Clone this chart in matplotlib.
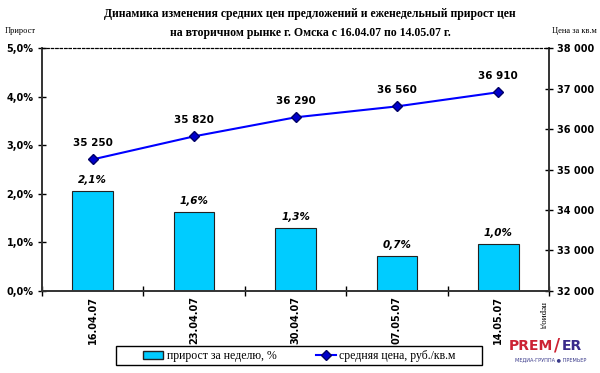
import matplotlib
matplotlib.use("Agg")
import matplotlib.pyplot as plt
import numpy as np
from matplotlib.lines import Line2D
from matplotlib.patches import Patch, Rectangle

dates = ["16.04.07", "23.04.07", "30.04.07", "07.05.07", "14.05.07"]
growth_pct = [2.06, 1.62, 1.29, 0.72, 0.96]
avg_price = [35250, 35820, 36290, 36560, 36910]

title = ("Динамика изменения средних цен предложений и еженедельный прирост цен\n"
         "на вторичном рынке г. Омска с 16.04.07 по 14.05.07 г.")

fig = plt.figure(figsize=(6.0, 3.73), dpi=100)
ax = fig.add_axes([0.07, 0.22, 0.845, 0.651])
ax2 = ax.twinx()

x = np.arange(len(dates))
ax.bar(x, growth_pct, width=0.4, color="#00CCFF", edgecolor="#222222", linewidth=0.8, zorder=2)
ax.set_xlim(-0.5, len(dates) - 0.5)
ax.set_ylim(0, 5)
ax.set_yticks(np.arange(0, 5.01, 1.0))
ax.set_yticklabels([f"{v:.1f}%".replace(".", ",") for v in np.arange(0, 5.01, 1.0)],
                   fontsize=7, fontweight="bold")
ax.set_xticks(x)
ax.set_xticklabels(dates, rotation=90, fontsize=7, fontweight="bold")
ax.set_xticks(np.arange(-0.5, len(dates), 1.0), minor=True)
ax.tick_params(axis="x", which="major", length=0, pad=4)
ax.tick_params(axis="x", which="minor", length=7, direction="inout", width=1)
ax.tick_params(axis="y", length=6, direction="inout", width=1, pad=3)

for xi, v in zip(x, growth_pct):
    ax.text(xi, v + 0.13, f"{v:.1f}%".replace(".", ","), ha="center", va="bottom",
            fontsize=7.5, fontweight="bold", fontstyle="italic")

ax2.plot(x, avg_price, color="#0000FF", linewidth=1.5, marker="D", markersize=5,
         markerfacecolor="#0000CC", markeredgecolor="#000066", zorder=3)
ax2.set_ylim(32000, 38000)
ax2.set_yticks(np.arange(32000, 38001, 1000))
ax2.set_yticklabels([f"{v:,}".replace(",", " ") for v in range(32000, 38001, 1000)],
                    fontsize=7, fontweight="bold")
ax2.tick_params(axis="y", length=6, direction="inout", width=1, pad=3)
for xi, v in zip(x, avg_price):
    ax2.text(xi, v + 280, f"{v:,}".replace(",", " "), ha="center", va="bottom",
             fontsize=7.5, fontweight="bold")

for a in (ax, ax2):
    a.spines["top"].set_linestyle((0, (2, 2)))
    a.spines["top"].set_linewidth(0.8)
    for s in ("left", "right", "bottom"):
        a.spines[s].set_color("#333333")
        a.spines[s].set_linewidth(1.2)

fig.text(0.517, 0.978, title, ha="center", va="top", fontsize=8.5,
         fontweight="bold", family="Liberation Serif", linespacing=1.75)
fig.text(0.008, 0.918, "Прирост", ha="left", va="center", fontsize=6, family="Liberation Serif")
fig.text(0.995, 0.918, "Цена за кв.м", ha="right", va="center", fontsize=6, family="Liberation Serif")
fig.text(0.905, 0.155, "период", rotation=270, ha="center", va="center", fontsize=6.5,
         family="Liberation Serif")

handles = [Patch(facecolor="#00CCFF", edgecolor="#222222", label="прирост за неделю, %"),
           Line2D([0], [0], color="#0000FF", linewidth=1.5, marker="D", markersize=5,
                  markerfacecolor="#0000CC", markeredgecolor="#000066",
                  label="средняя цена, руб./кв.м")]
leg = fig.legend(handles=handles, loc="center", bbox_to_anchor=(0.499, 0.046),
                 ncol=2, frameon=False,
                 prop={"family": "Liberation Serif", "size": 8.5}, borderaxespad=0,
                 handlelength=1.7, borderpad=0.2, handletextpad=0.3, columnspacing=3.3)
fig.patches.append(Rectangle((116 / 600, 8 / 373), 366 / 600, 19 / 373,
                             transform=fig.transFigure, fill=False,
                             edgecolor="#000000", linewidth=1.0))

# logo
fig.text(0.922, 0.072, "PREM", color="#cc2233", fontsize=10, fontweight="bold",
         ha="right", va="center", family="DejaVu Sans")
fig.text(0.929, 0.074, "/", color="#cc2233", fontsize=12, fontweight="bold",
         ha="center", va="center", family="DejaVu Sans")
fig.text(0.936, 0.072, "ER", color="#3a2a8a", fontsize=10, fontweight="bold",
         ha="left", va="center", family="DejaVu Sans")
fig.text(0.918, 0.037, "МЕДИА-ГРУППА ● ПРЕМЬЕР", color="#3a3a8a", fontsize=3.6,
         ha="center", va="center", family="DejaVu Sans")

fig.savefig("out.png", dpi=100)
